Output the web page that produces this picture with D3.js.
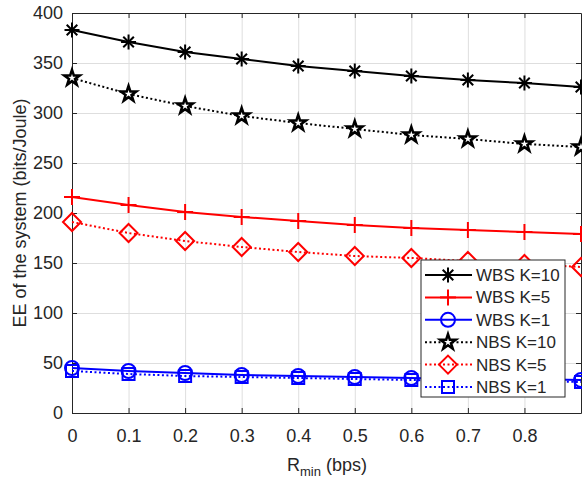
<!DOCTYPE html>
<html>
<head>
<meta charset="utf-8">
<script src="https://cdn.jsdelivr.net/npm/d3@7"></script>
<style>
  body { margin: 0; background: #fff; }
  text { font-family: "Liberation Sans", Arial, sans-serif; fill: #262626; }
</style>
</head>
<body>
<script>
// data
var rmin = [0, 0.1, 0.2, 0.3, 0.4, 0.5, 0.6, 0.7, 0.8, 0.9];
var wbsK10 = [383, 371, 361, 354, 347, 342, 337, 333, 330, 326];
var wbsK5  = [216, 208, 201, 196, 192, 188, 185, 183, 181, 179];
var wbsK1  = [45, 42, 40, 38, 37, 36, 35, 34, 34, 33];
var nbsK10 = [335, 319, 307, 297, 290, 284, 278, 274, 269, 266];
var nbsK5  = [191, 180, 172, 166, 161, 157, 155, 152, 149, 146];
var nbsK1  = [42, 39, 37, 36, 35, 34, 33, 32, 32, 31];
var xTicks = [0, 0.1, 0.2, 0.3, 0.4, 0.5, 0.6, 0.7, 0.8];
var yTicks = [0, 50, 100, 150, 200, 250, 300, 350, 400];

var series = [
  { name: 'WBS K=10', values: wbsK10, color: '#000000', dash: null, marker: 'asterisk' },
  { name: 'WBS K=5',  values: wbsK5,  color: '#ff0000', dash: null, marker: 'plus' },
  { name: 'WBS K=1',  values: wbsK1,  color: '#0000ff', dash: null, marker: 'circle' },
  { name: 'NBS K=10', values: nbsK10, color: '#000000', dash: '2,2.5', marker: 'star' },
  { name: 'NBS K=5',  values: nbsK5,  color: '#ff0000', dash: '2,2.5', marker: 'diamond' },
  { name: 'NBS K=1',  values: nbsK1,  color: '#0000ff', dash: '2,2.5', marker: 'square' }
];

var width = 582, height = 478;
// plot box (note: "top" is reserved on window, so prefix with p)
var pLeft = 72, pRight = 581, pTop = 13, pBottom = 413;

var x = d3.scaleLinear().domain([0, 0.9]).range([pLeft, pRight]);
var y = d3.scaleLinear().domain([0, 400]).range([pBottom, pTop]);

var svg = d3.select('body')
  .append('svg')
  .attr('width', width)
  .attr('height', height);

// grid
svg.append('g')
  .attr('transform', 'translate(0,' + pBottom + ')')
  .call(d3.axisBottom(x).tickValues(xTicks).tickSize(-(pBottom - pTop)).tickFormat(''))
  .call(function(g) {
    g.select('.domain').remove();
    g.selectAll('line').attr('stroke', '#dedede').attr('stroke-width', 1);
  });
svg.append('g')
  .attr('transform', 'translate(' + pLeft + ',0)')
  .call(d3.axisLeft(y).tickValues(yTicks).tickSize(-(pRight - pLeft)).tickFormat(''))
  .call(function(g) {
    g.select('.domain').remove();
    g.selectAll('line').attr('stroke', '#dedede').attr('stroke-width', 1);
  });

// axes (box with inward ticks, MATLAB style)
function styleAxis(g) {
  g.select('.domain').attr('stroke', '#262626').attr('stroke-width', 1);
  g.selectAll('.tick line').attr('stroke', '#262626');
  g.selectAll('.tick text').attr('font-size', '18px').attr('fill', '#262626')
    .attr('font-family', '"Liberation Sans", Arial, sans-serif');
}

svg.append('g')
  .attr('transform', 'translate(0,' + pBottom + ')')
  .call(d3.axisBottom(x).tickValues(xTicks).tickSizeInner(-5).tickSizeOuter(0).tickPadding(16)
    .tickFormat(function(d) { return d === 0 ? '0' : d3.format('.1f')(d); }))
  .call(styleAxis);
svg.append('g')
  .attr('transform', 'translate(0,' + pTop + ')')
  .call(d3.axisTop(x).tickValues(xTicks).tickSizeInner(-5).tickSizeOuter(0).tickFormat(''))
  .call(styleAxis);
svg.append('g')
  .attr('transform', 'translate(' + pLeft + ',0)')
  .call(d3.axisLeft(y).tickValues(yTicks).tickSizeInner(-5).tickSizeOuter(0).tickPadding(9))
  .call(styleAxis);
svg.append('g')
  .attr('transform', 'translate(' + pRight + ',0)')
  .call(d3.axisRight(y).tickValues(yTicks).tickSizeInner(-5).tickSizeOuter(0).tickFormat(''))
  .call(styleAxis);

// markers
function drawMarker(g, type, color) {
  if (type === 'asterisk') {
    // MATLAB '*' = '+' and 'x' on top of each other
    var r = 7.5, d = 5.3;
    [[-r, 0, r, 0], [0, -r, 0, r], [-d, -d, d, d], [-d, d, d, -d]].forEach(function(c) {
      g.append('line')
        .attr('x1', c[0]).attr('y1', c[1]).attr('x2', c[2]).attr('y2', c[3])
        .attr('stroke', color).attr('stroke-width', 2);
    });
  } else if (type === 'plus') {
    g.append('line').attr('x1', -8).attr('x2', 8).attr('stroke', color).attr('stroke-width', 2);
    g.append('line').attr('y1', -8).attr('y2', 8).attr('stroke', color).attr('stroke-width', 2);
  } else if (type === 'circle') {
    g.append('circle').attr('r', 7).attr('fill', 'none').attr('stroke', color).attr('stroke-width', 2);
  } else if (type === 'square') {
    g.append('rect').attr('x', -6).attr('y', -6).attr('width', 12).attr('height', 12)
      .attr('fill', 'none').attr('stroke', color).attr('stroke-width', 2);
  } else if (type === 'diamond') {
    g.append('path').attr('d', 'M0,-9L9,0L0,9L-9,0Z')
      .attr('fill', 'none').attr('stroke', color).attr('stroke-width', 2);
  } else if (type === 'star') {
    g.append('path').attr('d', d3.symbol().type(d3.symbolStar).size(75)())
      .attr('fill', '#fff').attr('stroke', color).attr('stroke-width', 2.5);
  }
}

var line = d3.line()
  .x(function(d, i) { return x(rmin[i]); })
  .y(function(d) { return y(d); });

series.forEach(function(s) {
  svg.append('path')
    .datum(s.values)
    .attr('d', line)
    .attr('fill', 'none')
    .attr('stroke', s.color)
    .attr('stroke-width', 2)
    .attr('stroke-dasharray', s.dash);

  svg.selectAll(null)
    .data(s.values)
    .enter()
    .append('g')
    .attr('transform', function(d, i) { return 'translate(' + x(rmin[i]) + ',' + y(d) + ')'; })
    .each(function() { drawMarker(d3.select(this), s.marker, s.color); });
});

// legend
var legend = svg.append('g').attr('transform', 'translate(421,260)');
legend.append('rect')
  .attr('width', 144).attr('height', 137)
  .attr('fill', '#fff').attr('stroke', '#262626').attr('stroke-width', 1);

var items = legend.selectAll('g.item')
  .data(series)
  .enter()
  .append('g')
  .attr('class', 'item')
  .attr('transform', function(d, i) { return 'translate(0,' + (15 + i * 22.4) + ')'; });

items.append('line')
  .attr('x1', 4).attr('x2', 51)
  .attr('stroke', function(d) { return d.color; })
  .attr('stroke-width', 2)
  .attr('stroke-dasharray', function(d) { return d.dash; });
items.each(function(d) {
  var g = d3.select(this).append('g').attr('transform', 'translate(27,0)');
  drawMarker(g, d.marker, d.color);
});
items.append('text')
  .attr('x', 55).attr('y', 6)
  .attr('font-size', '17px')
  .text(function(d) { return d.name; });

// axis labels
var xl = svg.append('text')
  .attr('x', 327).attr('y', 471)
  .attr('text-anchor', 'middle')
  .attr('font-size', '18px');
xl.append('tspan').text('R');
xl.append('tspan').attr('dy', 5).attr('font-size', '13px').text('min');
xl.append('tspan').attr('dy', -5).text(' (bps)');

svg.append('text')
  .attr('transform', 'translate(26,' + ((pTop + pBottom) / 2) + ') rotate(-90)')
  .attr('text-anchor', 'middle')
  .attr('font-size', '18px')
  .text('EE of the system (bits/Joule)');
</script>
</body>
</html>
